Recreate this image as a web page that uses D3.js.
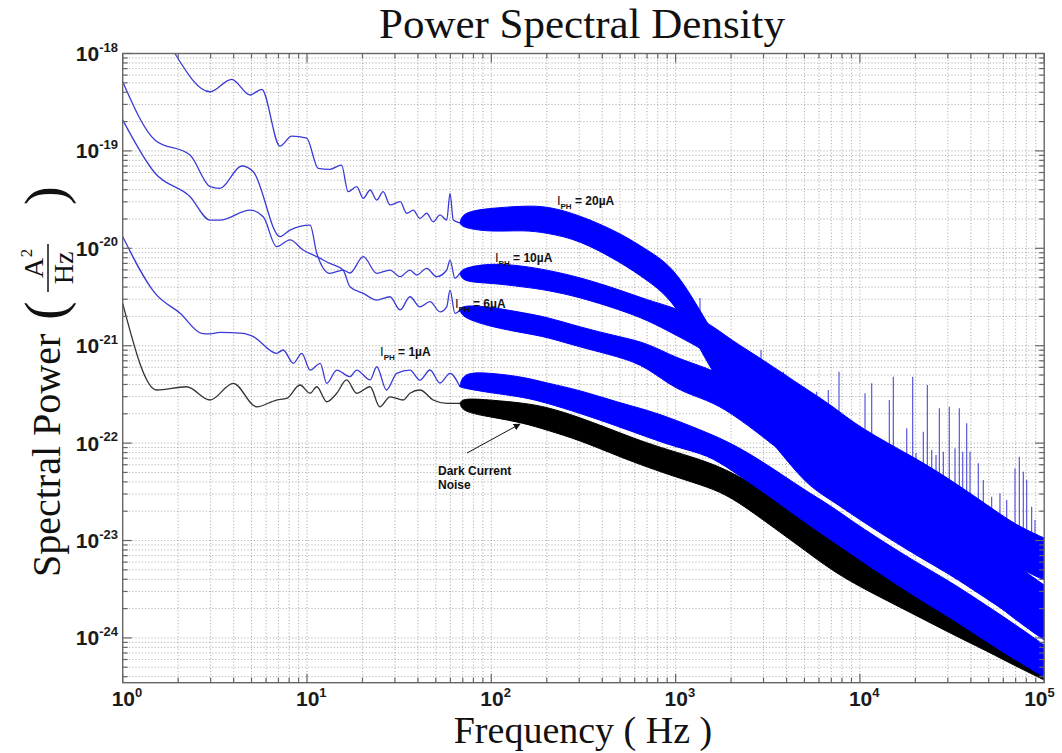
<!DOCTYPE html>
<html><head><meta charset="utf-8">
<script src="https://cdn.jsdelivr.net/npm/d3@7"></script>
<style>body{margin:0;background:#fff}</style>
</head><body>
<svg id="c" width="1062" height="753" xmlns="http://www.w3.org/2000/svg"></svg>
<script>
// ---------- DATA ----------
// Low-frequency single-trace parts: frequency (Hz) and PSD (A^2/Hz)
const lineF20 = [1.92,2.98,3.90,4.91,5.68,7.13,8.26,9.96,11.5,13.3,15.4,16.7,18.6,20.2,22.0,23.9,25.9,28.2,32.0,34.8,37.7,41.0,44.6,48.4,52.7,57.3,59.7,62.2,67.6];
const lineV20 = [1.0e-18,4.05e-19,5.43e-19,3.75e-19,4.29e-19,1.12e-19,1.42e-19,1.35e-19,6.62e-20,6.47e-20,7.16e-20,3.81e-20,4.29e-20,3.26e-20,3.97e-20,3.13e-20,3.81e-20,2.79e-20,3.01e-20,2.29e-20,2.47e-20,2.03e-20,2.29e-20,1.87e-20,2.20e-20,1.95e-20,3.67e-20,1.95e-20,1.82e-20];
const lineF10 = [1,1.5,2.32,2.98,3.37,4.42,5.11,7.14,8.09,10.4,11.3,13.3,15.7,17.1,20.2,23.9,28.2,32.0,36.2,39.4,44.6,50.5,57.3,59.7,63.5,67.6];
const lineV10 = [5.13e-19,1.29e-19,9.08e-20,4.29e-20,4.13e-20,7.0e-20,6.12e-20,1.32e-20,1.54e-20,1.73e-20,8.89e-21,5.53e-21,5.98e-21,5.58e-21,8.2e-21,5.53e-21,5.98e-21,5.11e-21,5.98e-21,5.32e-21,6.23e-21,5.11e-21,5.99e-21,7.58e-21,4.92e-21,5.55e-21];
const lineF6 = [1,1.5,2.32,2.98,3.37,4.91,5.79,6.84,8.09,9.53,11.3,13.3,15.7,17.1,20.2,23.9,28.2,32.0,36.2,41.0,46.5,52.7,57.3,59.7,63.5,67.6];
const lineV6 = [2.08e-19,5.89e-20,3.39e-20,1.95e-20,1.95e-20,2.47e-20,2.11e-20,1.04e-20,1.22e-20,9.6e-21,8.2e-21,7.0e-21,5.98e-21,4.03e-21,3.45e-21,2.94e-21,3.18e-21,2.33e-21,3.18e-21,2.51e-21,2.83e-21,2.23e-21,2.51e-21,3.73e-21,2.15e-21,2.33e-21];
const lineF1 = [1,1.5,2.05,2.68,2.98,3.37,4.51,5.11,6.84,7.42,8.43,9.37,10.4,11.8,12.8,14.5,17.1,18.6,22.0,23.9,27.0,30.7,36.2,41.0,46.5,52.7,59.7,67.6];
const lineV1 = [1.32e-20,3.45e-21,2.15e-21,1.34e-21,1.32e-21,1.37e-21,1.34e-21,1.24e-21,8.36e-22,9.04e-22,6.6e-22,8.36e-22,5.62e-22,6.6e-22,4.11e-22,5.62e-22,4.81e-22,5.62e-22,4.45e-22,6.08e-22,3.51e-22,5.21e-22,5.62e-22,4.44e-22,5.63e-22,4.14e-22,5.21e-22,3.79e-22];
const lineFD = [1,1.53,2.22,2.98,3.98,5.33,6.84,7.76,9.16,10.4,11.3,12.8,14.5,16.4,18.6,22.0,24.8,28.2,33.3,36.2,41.0,48.4,57.3,67.6];
const lineVD = [2.72e-21,3.51e-22,3.79e-22,2.77e-22,4.11e-22,2.36e-22,2.77e-22,2.88e-22,3.95e-22,3.25e-22,3.79e-22,2.66e-22,3.25e-22,4.45e-22,3.25e-22,3.79e-22,2.36e-22,2.99e-22,2.77e-22,3.25e-22,3.51e-22,2.77e-22,2.56e-22,2.56e-22];

// High-frequency noisy parts: upper / lower envelope of each trace
const bandF = [70,100,150,200,300,500,700,1000,1500,2000,3000,5000,7000,10000,20000,30000,50000,70000,100000];
const hi20 = [2.36e-20,2.59e-20,2.72e-20,2.72e-20,2.20e-20,1.44e-20,9.6e-21,6.28e-21,1.63e-21,7.13e-22,3.35e-22,1.53e-22,1.00e-22,5.96e-23,2.61e-23,1.62e-23,7.99e-24,5.22e-24,3.10e-24];
const lo20 = [1.62e-20,1.47e-20,1.54e-20,1.44e-20,1.22e-20,7.23e-21,4.73e-21,2.81e-21,6.34e-22,2.77e-22,1.36e-22,3.80e-23,2.61e-23,1.62e-23,7.10e-24,4.64e-24,2.45e-24,1.60e-24,9.98e-25];
const hi10 = [6.28e-21,7.07e-21,6.58e-21,5.99e-21,5.07e-21,3.73e-21,2.95e-21,2.44e-21,1.75e-21,1.14e-21,7.13e-22,3.68e-22,2.46e-22,1.43e-22,7.03e-23,4.38e-23,2.26e-23,1.44e-23,1.06e-23];
const lo10 = [4.51e-21,4.40e-21,4.01e-21,3.73e-21,3.16e-21,2.33e-21,1.84e-21,1.29e-21,8.61e-22,5.63e-22,3.12e-22,1.43e-22,9.56e-23,5.55e-23,2.61e-23,1.62e-23,8.38e-24,5.35e-24,3.93e-24];
const hi6 = [2.62e-21,2.50e-21,2.17e-21,1.97e-21,1.56e-21,1.23e-21,1.07e-21,7.48e-22,5.90e-22,4.44e-22,2.77e-22,1.53e-22,1.026e-22,6.40e-23,2.80e-23,1.83e-23,8.99e-24,5.61e-24,3.49e-24];
const lo6 = [1.93e-21,1.56e-21,1.35e-21,1.23e-21,9.70e-22,7.66e-22,6.04e-22,3.51e-22,2.77e-22,2.04e-22,1.155e-22,5.29e-23,3.54e-23,1.96e-23,8.38e-24,5.22e-24,2.57e-24,1.53e-24,9.51e-25];
const hi1 = [5.37e-22,5.25e-22,4.77e-22,4.14e-22,3.51e-22,2.58e-22,2.19e-22,1.73e-22,1.27e-22,1.00e-22,6.40e-23,3.30e-23,2.26e-23,1.38e-23,6.02e-24,3.93e-24,2.08e-24,1.36e-24,8.45e-25];
const lo1 = [3.68e-22,3.27e-22,2.97e-22,2.58e-22,2.04e-22,1.46e-22,1.155e-22,9.12e-23,7.55e-23,5.29e-23,3.15e-23,1.55e-23,1.01e-23,6.31e-24,2.63e-24,1.68e-24,8.86e-25,5.93e-25,3.97e-25];
const hiD = [2.90e-22,2.77e-22,2.58e-22,2.35e-22,1.85e-22,1.27e-22,1.00e-22,8.10e-23,6.40e-23,5.05e-23,3.30e-23,1.83e-23,1.14e-23,7.10e-24,3.10e-24,1.93e-24,1.15e-24,7.88e-25,5.66e-25];
const loD = [2.09e-22,1.85e-22,1.61e-22,1.36e-22,1.076e-22,7.20e-23,5.68e-23,4.49e-23,3.54e-23,2.80e-23,1.62e-23,7.99e-24,4.98e-24,3.33e-24,1.72e-24,1.15e-24,7.17e-25,5.14e-25,3.70e-25];

// Narrow interference spikes above the top trace
const spikeF = [1356,2907,3322,3841,5830,6738,7701,10660,11590,14440,15180,17950,19340,20160,22080,23220,24530,25880,26980,28350,30550,32810,34620,36130,37970,39570,43900,46720,51880,57540,62600,69430,73280,77020,80350,85510,89130];
const spikeV = [3.09e-21,9.04e-22,5.25e-22,5.41e-22,3.37e-22,3.51e-22,5.41e-22,3.25e-22,4.11e-22,2.77e-22,4.81e-22,1.42e-22,4.81e-22,7.91e-23,1.31e-22,3.95e-22,8.5e-23,7.55e-23,2.28e-22,8.17e-23,2.36e-22,8.85e-23,2.28e-22,8.17e-23,1.6e-22,8.17e-23,6.2e-23,4.18e-23,2.82e-23,3.05e-23,2.61e-23,5.51e-23,7.25e-23,5.08e-23,4.18e-23,2.22e-23,1.62e-23];

const xTickExp = [0,1,2,3,4,5];
const yTickExp = [-18,-19,-20,-21,-22,-23,-24];
const labels = [
  {name:"20µA", f:227,  v:2.78e-20},
  {name:"10µA", f:104.7,v:7.23e-21},
  {name:"6µA",  f:63.5, v:2.44e-21},
  {name:"1µA",  f:24.9, v:7.84e-22}
];

// ---------- CHART ----------
const svg = d3.select("#c");
const M = {l:122.7, t:53.5, r:1044.2, b:682.7};
const x = d3.scaleLog().domain([1,1e5]).range([M.l, M.r]);
const y = d3.scaleLog().domain([3.47e-25,1e-18]).range([M.b, M.t]);

svg.append("rect").attr("width",1062).attr("height",753).attr("fill","#fff");

// grid
const xt=[], yt=[];
for (let e=0;e<5;e++) for (let k=1;k<10;k++) xt.push({v:k*Math.pow(10,e), major:k===1});
xt.push({v:1e5, major:true});
for (let e=-25;e<-18;e++) for (let k=1;k<10;k++){ const v=k*Math.pow(10,e); if (v>=3.5e-25 && v<1e-18*0.999) yt.push({v, major:k===1}); }
yt.push({v:1e-18, major:true});

const grid = svg.append("g").attr("stroke","#9a9a9a").attr("stroke-width",0.9).attr("stroke-dasharray","1,2.2");
grid.selectAll("line.gx").data(xt.filter(d=>d.v>1&&d.v<1e5)).join("line")
  .attr("x1",d=>x(d.v)).attr("x2",d=>x(d.v)).attr("y1",M.t).attr("y2",M.b);
grid.selectAll("line.gy").data(yt.filter(d=>d.v<1e-18*0.999)).join("line")
  .attr("class","gy").attr("y1",d=>y(d.v)).attr("y2",d=>y(d.v)).attr("x1",M.l).attr("x2",M.r);

svg.append("clipPath").attr("id","clip").append("rect")
  .attr("x",M.l).attr("y",M.t).attr("width",M.r-M.l).attr("height",M.b-M.t);
const plot = svg.append("g").attr("clip-path","url(#clip)");

// spikes (drawn first, bases hidden under the band)
const hiTop = d3.scaleLinear().domain(bandF.map(Math.log10)).range(hi10.map(Math.log10));
plot.append("g").selectAll("line").data(spikeF.map((f,i)=>({f, v:spikeV[i]}))).join("line")
  .attr("x1",d=>x(d.f)).attr("x2",d=>x(d.f))
  .attr("y1",d=>y(d.v)).attr("y2",d=>y(Math.pow(10,hiTop(Math.log10(d.f))))+8)
  .attr("stroke","#4a4ad6").attr("stroke-width",1.1);

const line = d3.line().x(d=>x(d.f)).y(d=>y(d.v)).curve(d3.curveMonotoneX);
const area = d3.area().x(d=>x(d.f)).y0(d=>y(d.lo)).y1(d=>y(d.hi)).curve(d3.curveBasis);
const S = [
  {lf:lineFD, lv:lineVD, hi:hiD, lo:loD, fill:"#000", stroke:"#333"},
  {lf:lineF1, lv:lineV1, hi:hi1, lo:lo1, fill:"#0000ff", stroke:"#3a3ad6"},
  {lf:lineF6, lv:lineV6, hi:hi6, lo:lo6, fill:"#0000ff", stroke:"#3a3ad6"},
  {lf:lineF10, lv:lineV10, hi:hi10, lo:lo10, fill:"#0000ff", stroke:"#3a3ad6"},
  {lf:lineF20, lv:lineV20, hi:hi20, lo:lo20, fill:"#0000ff", stroke:"#3a3ad6"}
];
S.forEach(s=>{
  const n = s.lf.length;
  const lp = s.lf.map((f,i)=>({f, v:s.lv[i]}));
  const bp = [{f:s.lf[n-1], hi:s.lv[n-1], lo:s.lv[n-1]}].concat(bandF.map((f,i)=>({f, hi:s.hi[i], lo:s.lo[i]})));
  plot.append("path").datum(lp).attr("d",line)
    .attr("fill","none").attr("stroke",s.stroke).attr("stroke-width",1.3).attr("stroke-linejoin","round");
  plot.append("path").datum(bp).attr("d",area)
    .attr("fill",s.fill).attr("stroke",s.fill).attr("stroke-width",1).attr("stroke-linejoin","round");
});

// axes box & ticks
const ax = svg.append("g").attr("stroke","#666").attr("fill","none");
ax.append("rect").attr("x",M.l).attr("y",M.t).attr("width",M.r-M.l).attr("height",M.b-M.t).attr("stroke-width",1.4);
xt.forEach(d=>{
  const L = d.major?9:5, px=x(d.v);
  ax.append("line").attr("x1",px).attr("x2",px).attr("y1",M.b).attr("y2",M.b-L).attr("stroke-width",1.2);
  ax.append("line").attr("x1",px).attr("x2",px).attr("y1",M.t).attr("y2",M.t+L).attr("stroke-width",1.2);
});
yt.forEach(d=>{
  const L = d.major?9:5, py=y(d.v);
  ax.append("line").attr("y1",py).attr("y2",py).attr("x1",M.l).attr("x2",M.l+L).attr("stroke-width",1.2);
  ax.append("line").attr("y1",py).attr("y2",py).attr("x1",M.r).attr("x2",M.r-L).attr("stroke-width",1.2);
});

// tick labels
const tl = svg.append("g").attr("font-family","'Liberation Sans',Arial,sans-serif").attr("font-weight","bold").attr("fill","#1a1a1a");
yTickExp.forEach(e=>{
  const t = tl.append("text").attr("x",118).attr("y",y(Math.pow(10,e))+7.5).attr("text-anchor","end");
  t.append("tspan").attr("font-size",21).text("10");
  t.append("tspan").attr("font-size",13).attr("dy",-9.5).text(String(e));
});
xTickExp.forEach(e=>{
  const px = x(Math.pow(10,e));
  const t = tl.append("text").attr("x", e===5 ? px-20 : px-11).attr("y",706);
  t.append("tspan").attr("font-size",21).text("10");
  t.append("tspan").attr("font-size",13).attr("dy",-9.5).text(String(e));
});

// titles
const serif = "'Liberation Serif','Times New Roman',serif";
svg.append("text").attr("x",582).attr("y",38).attr("text-anchor","middle")
  .attr("font-family",serif).attr("font-size",43).attr("fill","#111").text("Power Spectral Density");
svg.append("text").attr("x",583).attr("y",743).attr("text-anchor","middle")
  .attr("font-family",serif).attr("font-size",38).attr("fill","#111").text("Frequency ( Hz )");
const yl = svg.append("g").attr("transform","rotate(-90)").attr("font-family",serif).attr("fill","#111");
yl.append("text").attr("x",-577).attr("y",60).attr("font-size",40).text("Spectral Power");
yl.append("text").attr("x",-320).attr("y",64).attr("font-size",56).text("(");
yl.append("text").attr("x",-268).attr("y",43).attr("font-size",28).attr("text-anchor","middle").text("A");
yl.append("text").attr("x",-253).attr("y",32).attr("font-size",17).attr("text-anchor","middle").text("2");
yl.append("line").attr("x1",-292).attr("x2",-244).attr("y1",48).attr("y2",48).attr("stroke","#111").attr("stroke-width",1.5);
yl.append("text").attr("x",-268).attr("y",73).attr("font-size",28).attr("text-anchor","middle").text("Hz");
yl.append("text").attr("x",-205).attr("y",64).attr("font-size",56).text(")");

// annotations
const an = svg.append("g").attr("font-family","'Liberation Sans',Arial,sans-serif").attr("font-weight","bold").attr("fill","#111");
labels.forEach(l=>{
  const t = an.append("text").attr("x",x(l.f)).attr("y",y(l.v));
  t.append("tspan").attr("font-size",13).attr("font-weight","normal").text("I");
  t.append("tspan").attr("font-size",8).attr("dy",4).text("PH");
  t.append("tspan").attr("font-size",12).attr("dy",-4).text(" = "+l.name);
});
an.append("text").attr("x",438).attr("y",475).attr("font-size",12).text("Dark Current");
an.append("text").attr("x",438).attr("y",489).attr("font-size",12).text("Noise");
svg.append("defs").append("marker").attr("id","ah").attr("viewBox","0 0 10 10").attr("refX",9).attr("refY",5)
  .attr("markerWidth",7).attr("markerHeight",7).attr("orient","auto")
  .append("path").attr("d","M0,0L10,5L0,10z").attr("fill","#111");
svg.append("line").attr("x1",467).attr("y1",453).attr("x2",520).attr("y2",424)
  .attr("stroke","#111").attr("stroke-width",1).attr("marker-end","url(#ah)");
</script>
</body></html>
